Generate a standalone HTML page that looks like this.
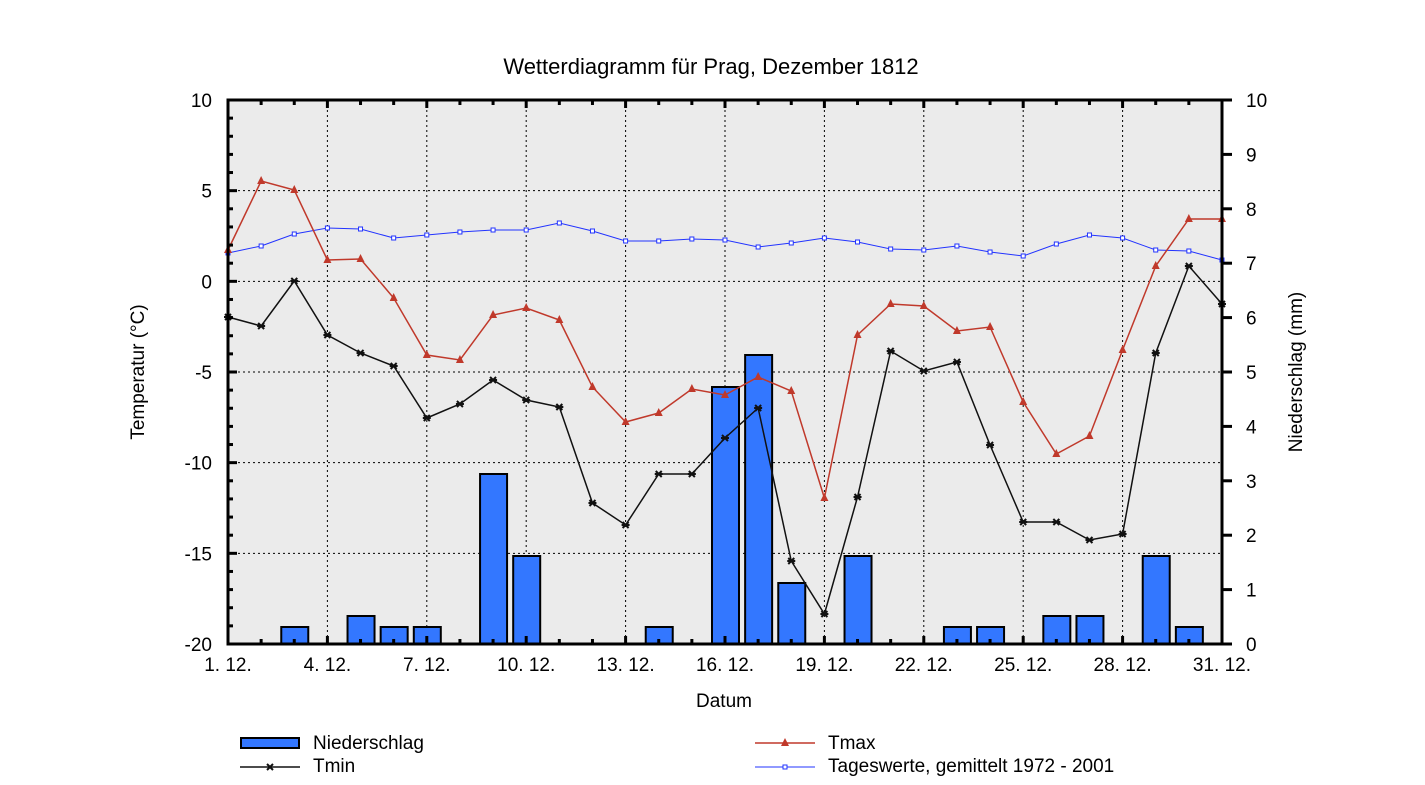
<!DOCTYPE html>
<html><head><meta charset="utf-8"><style>
body{margin:0;background:#fff}
svg text{font-family:"Liberation Sans",Arial,sans-serif;fill:#000}
</style></head><body>
<svg id="s" width="1425" height="780" xmlns="http://www.w3.org/2000/svg"></svg>
<script>
const s=document.getElementById('s');let h='';
const X=d=>228+(d-1)*33.133, Y=t=>100+(10-t)*18.133, R=m=>644-m*54.4;
h+='<rect x="228" y="100" width="994" height="544" fill="#ebebeb"/>';
for(let d=4;d<31;d+=3)h+=`<line x1="${X(d)}" y1="100" x2="${X(d)}" y2="644" stroke="#000" stroke-width="1" stroke-dasharray="2,3"/>`;
for(let t=5;t>-20;t-=5)h+=`<line x1="228" y1="${Y(t)}" x2="1222" y2="${Y(t)}" stroke="#000" stroke-width="1" stroke-dasharray="2,3"/>`;
const bars={3:627,5:616,6:627,7:627,9:474,10:556,14:627,16:387,17:355,18:583,20:556,23:627,24:627,26:616,27:616,29:556,30:627};
for(const d in bars){const x=X(+d);h+=`<rect x="${x-13}" y="${bars[d]}" width="27" height="${644-bars[d]}" fill="#3377ff" stroke="#000" stroke-width="2"/>`;}
const tmax=[250,181,190,260,259,298,355,360,315,308,320,387,422,413,389,395,377,391,498,335,304,306,331,327,402,454,436,350,266,219,219];
const tmin=[317,326,281,335,353,366,418,404,380,400,407,503,525,474,474,438,408,561,614,497,351,371,362,445,522,522,540,534,353,266,304];
const avg=[253,246,234,228,229,238,235,232,230,230,223,231,241,241,239,240,247,243,238,242,249,250,246,252,256,244,235,238,250,251,260];
const pts=a=>a.map((y,i)=>X(i+1)+','+y).join(' ');
h+=`<polyline points="${pts(avg)}" fill="none" stroke="#2233ff" stroke-width="1"/>`;
avg.forEach((y,i)=>h+=`<rect x="${X(i+1)-2}" y="${y-2}" width="4" height="4" fill="#fff" stroke="#2233ff" stroke-width="1"/>`);
h+=`<polyline points="${pts(tmax)}" fill="none" stroke="#c0392b" stroke-width="1.5"/>`;
tmax.forEach((y,i)=>{const x=X(i+1);h+=`<polygon points="${x},${y-5} ${x-4},${y+3} ${x+4},${y+3}" fill="#c0392b"/>`});
h+=`<polyline points="${pts(tmin)}" fill="none" stroke="#111" stroke-width="1.5"/>`;
tmin.forEach((y,i)=>{const x=X(i+1);h+=`<path d="M${x-3},${y-3}L${x+3},${y+3}M${x+3},${y-3}L${x-3},${y+3}M${x-4},${y}H${x+4}" stroke="#111" stroke-width="2"/>`});
h+='<rect x="228" y="100" width="994" height="544" fill="none" stroke="#000" stroke-width="3"/>';
for(let d=2;d<=31;d++){const x=X(d),L=(d-1)%3==0?8:5;h+=`<line x1="${x}" y1="100" x2="${x}" y2="${100+L}" stroke="#000" stroke-width="3"/><line x1="${x}" y1="644" x2="${x}" y2="${644-L}" stroke="#000" stroke-width="3"/>`;}
for(let t=-19;t<10;t++){const y=Y(t),L=t%5==0?9:5;h+=`<line x1="228" y1="${y}" x2="${228+L}" y2="${y}" stroke="#000" stroke-width="3"/>`;}
for(let t=10;t>=-20;t-=5)h+=`<text x="212" y="${Y(t)+7}" font-size="19" text-anchor="end">${t}</text>`;
for(let m=0;m<=10;m++){const y=R(m);h+=`<line x1="1222" y1="${y}" x2="1232" y2="${y}" stroke="#000" stroke-width="3"/><text x="1246" y="${y+7}" font-size="19">${m}</text>`;}
for(let d=1;d<=31;d+=3)h+=`<text x="${X(d)}" y="671" font-size="19" text-anchor="middle">${d}. 12.</text>`;
h+='<text x="711" y="74" font-size="22" text-anchor="middle">Wetterdiagramm für Prag, Dezember 1812</text>';
h+='<text x="724" y="707" font-size="19" text-anchor="middle">Datum</text>';
h+='<text transform="translate(144,372) rotate(-90)" font-size="19" text-anchor="middle">Temperatur (°C)</text>';
h+='<text transform="translate(1302,372) rotate(-90)" font-size="19" text-anchor="middle">Niederschlag (mm)</text>';
h+='<rect x="241" y="738" width="58" height="10" fill="#3377ff" stroke="#000" stroke-width="2"/><text x="313" y="749" font-size="19">Niederschlag</text>';
h+='<line x1="240" y1="767" x2="300" y2="767" stroke="#111" stroke-width="1.5"/><path d="M267,764L273,770M273,764L267,770" stroke="#111" stroke-width="2"/><text x="313" y="772" font-size="19">Tmin</text>';
h+='<line x1="755" y1="743" x2="815" y2="743" stroke="#c0392b" stroke-width="1.5"/><polygon points="785,738 781,746 789,746" fill="#c0392b"/><text x="828" y="749" font-size="19">Tmax</text>';
h+='<line x1="755" y1="767" x2="815" y2="767" stroke="#2233ff" stroke-width="1"/><rect x="783" y="765" width="4" height="4" fill="#fff" stroke="#2233ff"/><text x="828" y="772" font-size="19">Tageswerte, gemittelt 1972 - 2001</text>';
s.innerHTML=h;
</script>
</body></html>
